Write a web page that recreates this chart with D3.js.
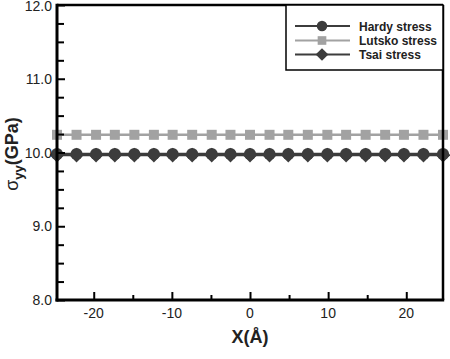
<!DOCTYPE html>
<html>
<head>
<meta charset="utf-8">
<script src="https://cdn.jsdelivr.net/npm/d3@7"></script>
<style>
  body { margin: 0; background: #fff; }
  svg { display: block; font-family: "Liberation Sans", Arial, sans-serif; }
</style>
</head>
<body>
<svg id="chart" width="450" height="359"></svg>
<script>
// positions along the sample (Angstrom)
var xPos = [-24.7, -22.2, -19.7, -17.3, -14.8, -12.3, -9.9, -7.4, -4.9, -2.5, 0,
            2.5, 4.9, 7.4, 9.9, 12.3, 14.8, 17.3, 19.7, 22.2, 24.7];
var hardy  = [9.98, 9.98, 9.98, 9.98, 9.98, 9.98, 9.98, 9.98, 9.98, 9.98, 9.98,
              9.98, 9.98, 9.98, 9.98, 9.98, 9.98, 9.98, 9.98, 9.98, 9.98];
var lutsko = [10.24, 10.24, 10.24, 10.24, 10.24, 10.24, 10.24, 10.24, 10.24, 10.24, 10.24,
              10.24, 10.24, 10.24, 10.24, 10.24, 10.24, 10.24, 10.24, 10.24, 10.24];
var tsai   = [9.965, 9.965, 9.965, 9.965, 9.965, 9.965, 9.965, 9.965, 9.965, 9.965, 9.965,
              9.965, 9.965, 9.965, 9.965, 9.965, 9.965, 9.965, 9.965, 9.965, 9.965];
var seriesNames = ["Hardy stress", "Lutsko stress", "Tsai stress"];
var xTicks = [-20, -10, 0, 10, 20];
var xMinor = [-15, -5, 5, 15];
var yTicks = [8, 9, 10, 11, 12];
var yMinor = [8.25, 8.5, 8.75, 9.25, 9.5, 9.75, 10.25, 10.5, 10.75, 11.25, 11.5, 11.75];

var plotLeft = 57, plotRight = 443, plotTop = 5, plotBottom = 300;
var dark = "#3c3c3c", light = "#a2a2a2";

var svg = d3.select("#chart");

var x = d3.scaleLinear().domain([-24.7, 24.7]).range([plotLeft, plotRight]);
var y = d3.scaleLinear().domain([8, 12]).range([plotBottom, plotTop]);

// rot: extra rotation of the symbol (square turned 45deg gives the diamond)
var series = [
    {name: seriesNames[0], values: hardy, color: dark, shape: d3.symbolCircle, size: 115, rot: 0},
    {name: seriesNames[1], values: lutsko, color: light, shape: d3.symbolSquare, size: 100, rot: 0},
    {name: seriesNames[2], values: tsai, color: dark, shape: d3.symbolSquare, size: 108, rot: 45}
];

// draw order: lutsko, hardy, tsai on top
var drawOrder = [series[1], series[0], series[2]];

var line = d3.line()
        .x(function (d) { return x(d[0]); })
        .y(function (d) { return y(d[1]); });

drawOrder.forEach(function (s) {
    var pts = xPos.map(function (v, i) { return [v, s.values[i]]; });
    svg.append("path")
            .attr("d", line(pts))
            .attr("fill", "none")
            .attr("stroke", s.color)
            .attr("stroke-width", 2.5);
    svg.append("g").selectAll("path")
            .data(pts)
            .enter()
            .append("path")
            .attr("transform", function (d) {
                return "translate(" + x(d[0]) + "," + y(d[1]) + ") rotate(" + s.rot + ")";
            })
            .attr("d", d3.symbol().type(s.shape).size(s.size))
            .attr("fill", s.color);
});

// frame
svg.append("line").attr("x1", plotLeft).attr("x2", plotRight).attr("y1", plotTop).attr("y2", plotTop)
        .attr("stroke", "#000").attr("stroke-width", 2.5);
svg.append("line").attr("x1", plotRight).attr("x2", plotRight).attr("y1", plotTop).attr("y2", plotBottom)
        .attr("stroke", "#000").attr("stroke-width", 2.5);

// axes (ticks pointing inside)
svg.append("g")
        .attr("transform", "translate(0," + plotBottom + ")")
        .call(d3.axisTop(x).tickValues(xTicks).tickSize(8).tickFormat(""));
svg.append("g")
        .attr("transform", "translate(0," + plotBottom + ")")
        .call(d3.axisTop(x).tickValues(xMinor).tickSize(5).tickFormat(""));
svg.append("g")
        .attr("transform", "translate(" + plotLeft + ",0)")
        .call(d3.axisRight(y).tickValues(yTicks).tickSize(8).tickFormat(""));
svg.append("g")
        .attr("transform", "translate(" + plotLeft + ",0)")
        .call(d3.axisRight(y).tickValues(yMinor).tickSize(7).tickFormat(""));

svg.selectAll(".domain").remove();
svg.selectAll(".tick line").attr("stroke", "#000").attr("stroke-width", 2);

svg.append("line").attr("x1", plotLeft - 1.5).attr("x2", plotRight + 1.2).attr("y1", plotBottom).attr("y2", plotBottom)
        .attr("stroke", "#000").attr("stroke-width", 3);
svg.append("line").attr("x1", plotLeft).attr("x2", plotLeft).attr("y1", plotTop - 1.2).attr("y2", plotBottom + 1.5)
        .attr("stroke", "#000").attr("stroke-width", 3);

// tick labels
svg.append("g").selectAll("text")
        .data(xTicks)
        .enter()
        .append("text")
        .attr("x", function (d) { return x(d); })
        .attr("y", 318)
        .attr("text-anchor", "middle")
        .attr("font-size", 14)
        .attr("fill", "#222")
        .text(function (d) { return d; });

svg.append("g").selectAll("text")
        .data(yTicks)
        .enter()
        .append("text")
        .attr("x", 52)
        .attr("y", function (d) { return Math.max(y(d) + 5, 11); })
        .attr("text-anchor", "end")
        .attr("font-size", 14)
        .attr("fill", "#222")
        .text(function (d) { return d.toFixed(1); });

// axis titles
svg.append("text")
        .attr("x", 250)
        .attr("y", 343)
        .attr("text-anchor", "middle")
        .attr("font-size", 18)
        .attr("font-weight", "bold")
        .attr("fill", "#222")
        .text("X(Å)");

var yTitle = svg.append("text")
        .attr("transform", "translate(18,154) rotate(-90)")
        .attr("text-anchor", "middle")
        .attr("font-size", 18)
        .attr("font-weight", "bold")
        .attr("fill", "#222");
yTitle.append("tspan").attr("font-weight", "normal").text("σ");
yTitle.append("tspan").attr("font-size", 13).attr("dy", 5).text("yy");
yTitle.append("tspan").attr("dy", -5).text("(GPa)");

// legend
var legend = svg.append("g");
legend.append("rect")
        .attr("x", 286).attr("y", 5)
        .attr("width", 157).attr("height", 65)
        .attr("fill", "#fff")
        .attr("stroke", "#000")
        .attr("stroke-width", 1.5);

var legendY = [26, 40.5, 54.5];
series.forEach(function (s, i) {
    var g = legend.append("g").attr("transform", "translate(0," + legendY[i] + ")");
    g.append("line")
            .attr("x1", 295).attr("x2", 350)
            .attr("stroke", s.color)
            .attr("stroke-width", 2.2);
    g.append("path")
            .attr("transform", "translate(322,0) rotate(" + s.rot + ")")
            .attr("d", d3.symbol().type(s.shape).size(s.size * 0.75))
            .attr("fill", s.color);
    g.append("text")
            .attr("x", 359)
            .attr("y", 4.5)
            .attr("font-size", 12)
            .attr("font-weight", "bold")
            .attr("fill", "#222")
            .text(s.name);
});
</script>
</body>
</html>
